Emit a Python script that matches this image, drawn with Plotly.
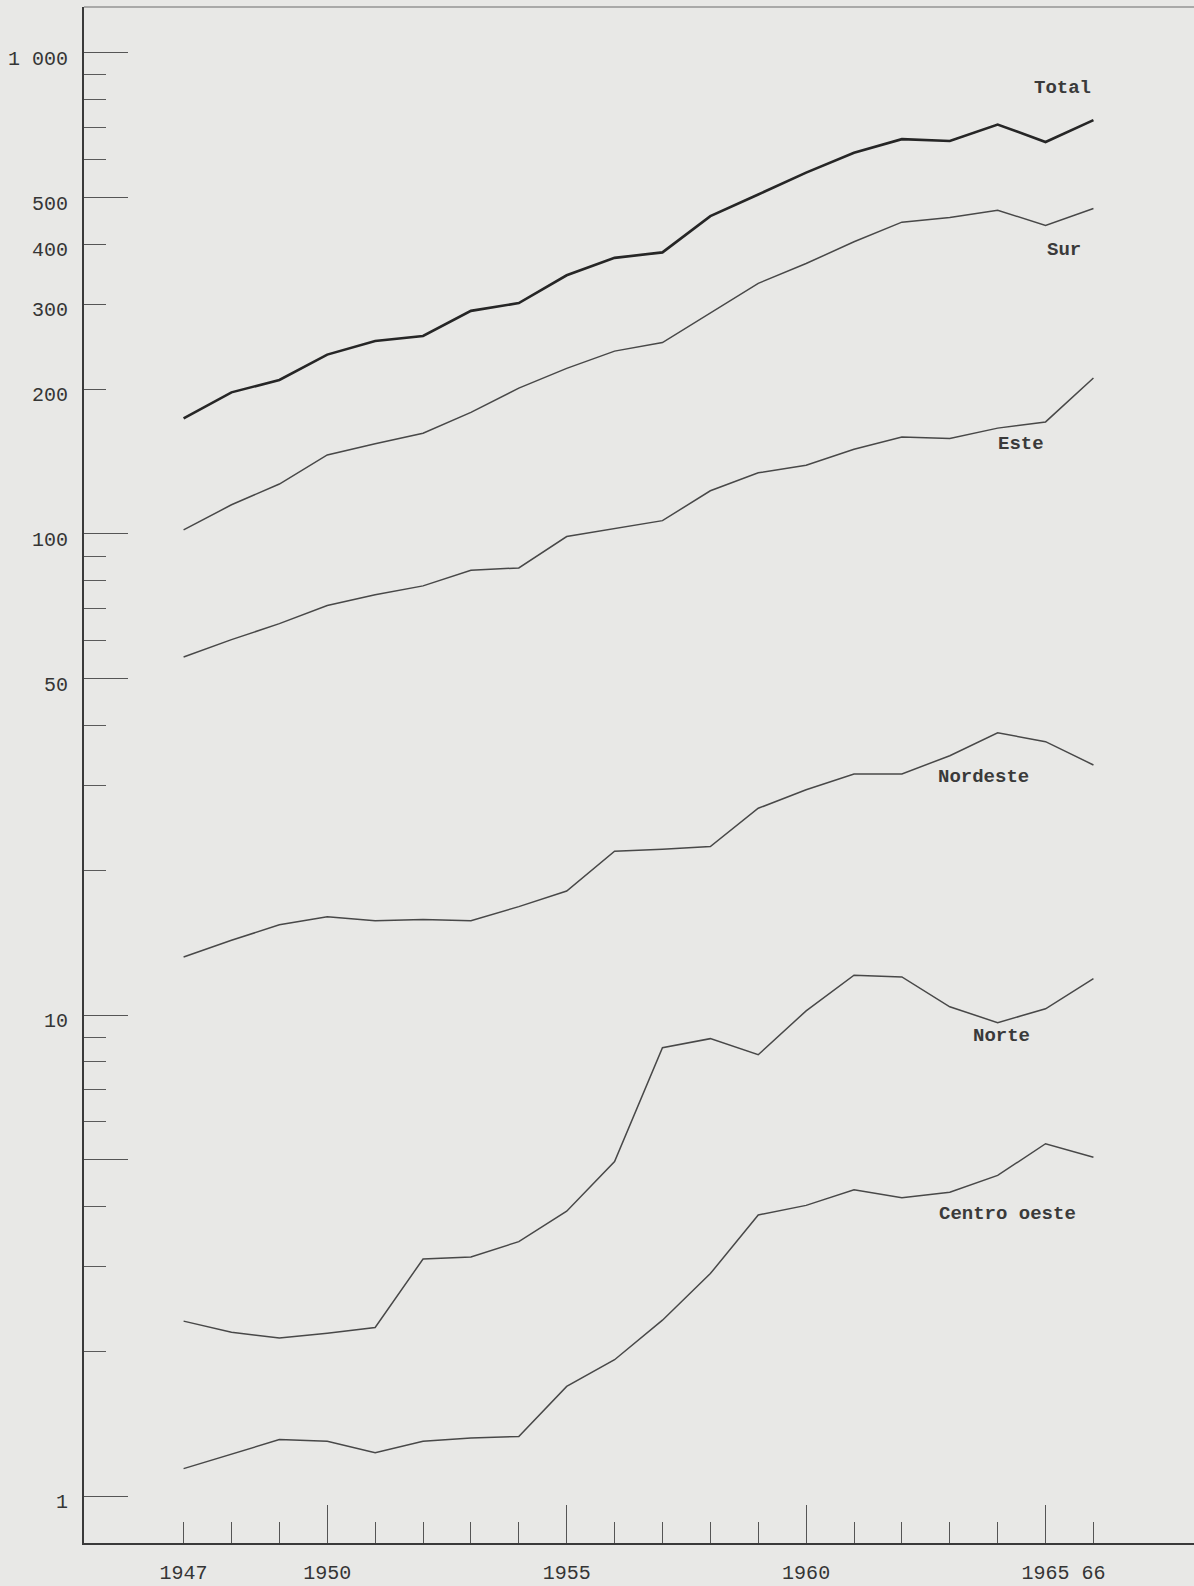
import math
import plotly.graph_objects as go

# Annual series by region, 1947-1966 (log scale)
years = list(range(1947, 1967))
total = [174, 197, 209, 236, 252, 258, 291, 302, 345, 375,
         385, 458, 508, 564, 620, 662, 656, 710, 653, 725]
sur = [102, 115, 127, 146, 154, 162, 179, 201, 221, 240,
       250, 288, 332, 365, 405, 445, 455, 471, 438, 475]
este = [55.5, 60.3, 65.1, 71.0, 74.8, 78.0, 84.1, 85.0, 98.8, 102.6,
        106.6, 123, 134, 139, 150, 159, 158, 166, 171, 211]
nordeste = [13.2, 14.3, 15.4, 16.0, 15.7, 15.8, 15.7, 16.8, 18.1, 21.9,
            22.1, 22.4, 26.9, 29.4, 31.7, 31.7, 34.6, 38.6, 37.0, 33.1]
norte = [2.31, 2.19, 2.13, 2.18, 2.24, 3.11, 3.14, 3.38, 3.91, 4.96,
         8.55, 8.93, 8.27, 10.2, 12.1, 12.0, 10.4, 9.64, 10.3, 11.9]
centro_oeste = [1.14, 1.22, 1.31, 1.30, 1.23, 1.30, 1.32, 1.33, 1.69, 1.92,
                2.32, 2.90, 3.84, 4.02, 4.33, 4.17, 4.28, 4.64, 5.40, 5.06]

# Axis tick labels
y_label_vals = [1, 10, 50, 100, 200, 300, 400, 500, 1000]
y_label_text = ["1", "10", "50", "100", "200", "300", "400", "500", "1 000"]
y_long_vals = [1, 5, 10, 50, 100, 500, 1000]
y_minor_vals = [m * d for d in (1, 10, 100) for m in range(2, 10)]
x_label_vals = [1947, 1950, 1955, 1960, 1965, 1966]
x_label_text = ["1947", "1950", "1955", "1960", "1965", "66"]
x_long_vals = [1950, 1955, 1960, 1965]

# Series labels: (text, year, value)
series_labels = [
    ("Total", 1965.35, 845),
    ("Sur", 1965.38, 389),
    ("Este", 1964.48, 154),
    ("Nordeste", 1963.71, 31.3),
    ("Norte", 1964.09, 9.04),
    ("Centro oeste", 1964.21, 3.86),
]

BG = "#e8e8e6"
INK = "#3a3a3a"
MONO = "Liberation Mono, Courier New, monospace"

Y_RANGE = [-0.0977, 3.0956]
X_RANGE = [1944.92, 1968.10]

fig = go.Figure()

series = [
    (total, 2.6, "#262626"),
    (sur, 1.5, "#484848"),
    (este, 1.5, "#484848"),
    (nordeste, 1.5, "#484848"),
    (norte, 1.5, "#484848"),
    (centro_oeste, 1.5, "#484848"),
]
for vals, w, c in series:
    fig.add_trace(go.Scatter(x=years, y=vals, mode="lines",
                             line=dict(color=c, width=w),
                             hoverinfo="skip", showlegend=False))

# transparent traces so the overlay axes carrying the long ticks are drawn
fig.add_trace(go.Scatter(x=years, y=total, xaxis="x", yaxis="y2", mode="lines",
                         line=dict(width=0), opacity=0, hoverinfo="skip",
                         showlegend=False))
fig.add_trace(go.Scatter(x=years, y=total, xaxis="x2", yaxis="y", mode="lines",
                         line=dict(width=0), opacity=0, hoverinfo="skip",
                         showlegend=False))

for text, yr, val in series_labels:
    fig.add_annotation(x=yr, y=math.log10(val), xref="x", yref="y",
                       text="<b>" + text + "</b>", showarrow=False,
                       font=dict(family=MONO, size=19, color="#3a3a3a"),
                       xanchor="center", yanchor="middle")

fig.update_layout(
    width=1194, height=1586,
    margin=dict(l=84, r=0, t=7, b=43),
    paper_bgcolor=BG, plot_bgcolor=BG,
    showlegend=False,
    xaxis=dict(
        range=X_RANGE, showgrid=False, zeroline=False,
        showline=True, linewidth=2, linecolor=INK,
        tickmode="array", tickvals=x_label_vals, ticktext=x_label_text,
        ticks="inside", ticklen=21, tickwidth=1, tickcolor="#555",
        ticklabelstandoff=10,
        tickfont=dict(family=MONO, size=20, color="#353535"),
        minor=dict(tickmode="array", tickvals=years, ticks="inside",
                   ticklen=21, tickwidth=1, tickcolor="#555", showgrid=False),
    ),
    xaxis2=dict(
        range=X_RANGE, overlaying="x", anchor="y", side="bottom",
        showgrid=False, zeroline=False, showline=False,
        tickmode="array", tickvals=x_long_vals, ticks="inside",
        ticklen=38, tickwidth=1, tickcolor="#555", showticklabels=False,
    ),
    yaxis=dict(
        type="log", range=Y_RANGE, showgrid=False, zeroline=False,
        showline=True, linewidth=2, linecolor=INK,
        tickmode="array", tickvals=y_label_vals, ticktext=y_label_text,
        ticks="inside", ticklen=22, tickwidth=1, tickcolor="#555",
        ticklabelstandoff=10, ticklabelshift=5,
        tickfont=dict(family=MONO, size=20, color="#353535"),
        minor=dict(tickmode="array", tickvals=y_minor_vals, ticks="inside",
                   ticklen=22, tickwidth=1, tickcolor="#5a5a5a", showgrid=False),
    ),
    yaxis2=dict(
        type="log", range=Y_RANGE, overlaying="y", anchor="x", side="left",
        showgrid=False, zeroline=False, showline=False,
        tickmode="array", tickvals=y_long_vals, ticks="inside",
        ticklen=44, tickwidth=1, tickcolor="#555", showticklabels=False,
    ),
    shapes=[dict(type="line", xref="paper", yref="paper", x0=0, x1=1,
                 y0=1, y1=1, line=dict(color="#6a6a6a", width=1))],
)

fig.write_html("out.html")
